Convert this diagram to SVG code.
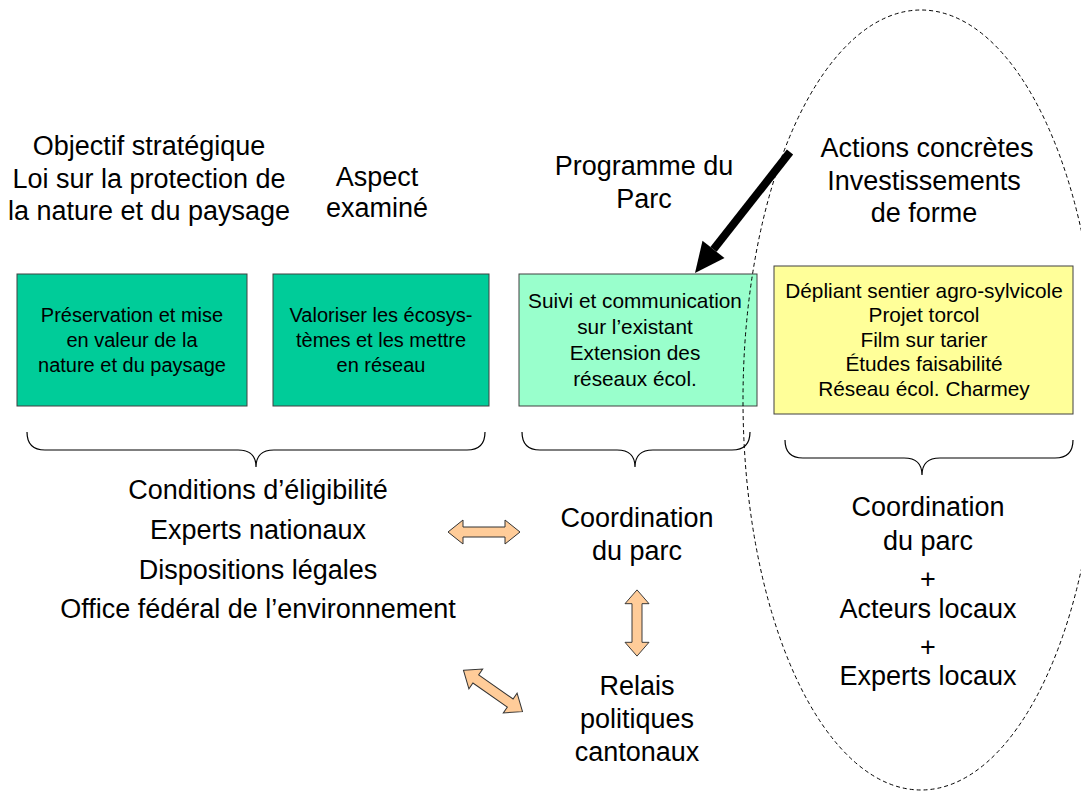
<svg xmlns="http://www.w3.org/2000/svg" width="1081" height="791" viewBox="0 0 1081 791">
  <style>
    text { font-family: "Liberation Sans", Arial, sans-serif; fill: #000; text-anchor: middle; }
    .title { font-size: 27px; }
    .big { font-size: 27px; }
    .box-text { font-size: 20px; }
    .box-text-l { font-size: 20.8px; }
    .box-teal { fill: #00CC99; stroke: #404040; stroke-width: 1; }
    .box-mint { fill: #99FFCC; stroke: #404040; stroke-width: 1; }
    .box-yellow { fill: #FFFF99; stroke: #404040; stroke-width: 1; }
    .brace { fill: none; stroke: #000; stroke-width: 1.2; }
    .dbl { fill: #FFCC99; stroke: #333; stroke-width: 1; stroke-linejoin: miter; }
    .scope { fill: none; stroke: #000; stroke-width: 1; stroke-dasharray: 4 3; }
  </style>
  <defs>
    <!-- horizontal double block arrow, centred on the origin, 72 long -->
    <polygon id="dbl-arrow" points="-36,0 -21,-12 -21,-5 21,-5 21,-12 36,0 21,12 21,5 -21,5 -21,12"/>
  </defs>

  <rect width="1081" height="791" fill="#fff"/>

  <!-- column headings -->
  <g id="head-objectif">
    <text class="title" x="149" y="155">Objectif stratégique</text>
    <text class="title" x="149" y="188">Loi sur la protection de</text>
    <text class="title" x="149" y="220">la nature et du paysage</text>
  </g>
  <g id="head-aspect">
    <text class="title" x="377" y="186">Aspect</text>
    <text class="title" x="377" y="217">examiné</text>
  </g>
  <g id="head-programme">
    <text class="title" x="644" y="175">Programme du</text>
    <text class="title" x="644" y="208">Parc</text>
  </g>
  <g id="head-actions">
    <text class="title" x="927" y="157">Actions concrètes</text>
    <text class="title" x="924" y="190">Investissements</text>
    <text class="title" x="924" y="222">de forme</text>
  </g>

  <!-- boxes -->
  <g id="box-preservation">
    <rect class="box-teal" x="17" y="274" width="230" height="132"/>
    <text class="box-text" x="132" y="322">Préservation et mise</text>
    <text class="box-text" x="132" y="347">en valeur de la</text>
    <text class="box-text" x="132" y="372">nature et du paysage</text>
  </g>
  <g id="box-valoriser">
    <rect class="box-teal" x="273" y="274" width="216" height="132"/>
    <text class="box-text" x="381" y="322">Valoriser les écosys-</text>
    <text class="box-text" x="381" y="347">tèmes et les mettre</text>
    <text class="box-text" x="381" y="372">en réseau</text>
  </g>
  <g id="box-suivi">
    <rect class="box-mint" x="519" y="274" width="238" height="132"/>
    <text class="box-text-l" x="635" y="308">Suivi et communication</text>
    <text class="box-text-l" x="635" y="334">sur l’existant</text>
    <text class="box-text-l" x="635" y="360">Extension des</text>
    <text class="box-text-l" x="635" y="386">réseaux écol.</text>
  </g>
  <g id="box-actions">
    <rect class="box-yellow" x="774" y="266" width="299" height="148"/>
    <text class="box-text-l" x="924" y="298">Dépliant sentier agro-sylvicole</text>
    <text class="box-text-l" x="924" y="322">Projet torcol</text>
    <text class="box-text-l" x="924" y="347">Film sur tarier</text>
    <text class="box-text-l" x="924" y="371">Études faisabilité</text>
    <text class="box-text-l" x="924" y="396">Réseau écol. Charmey</text>
  </g>

  <!-- lower labels -->
  <g id="label-conditions">
    <text class="big" x="258" y="499">Conditions d’éligibilité</text>
    <text class="big" x="258" y="539">Experts nationaux</text>
    <text class="big" x="258" y="579">Dispositions légales</text>
    <text class="big" x="258" y="618">Office fédéral de l’environnement</text>
  </g>
  <g id="label-coordination">
    <text class="big" x="637" y="527">Coordination</text>
    <text class="big" x="637" y="560">du parc</text>
  </g>
  <g id="label-relais">
    <text class="big" x="637" y="695">Relais</text>
    <text class="big" x="637" y="728">politiques</text>
    <text class="big" x="637" y="761">cantonaux</text>
  </g>
  <g id="label-acteurs">
    <text class="big" x="928" y="516">Coordination</text>
    <text class="big" x="928" y="550">du parc</text>
    <text class="big" x="928" y="588">+</text>
    <text class="big" x="928" y="618">Acteurs locaux</text>
    <text class="big" x="928" y="656">+</text>
    <text class="big" x="928" y="685">Experts locaux</text>
  </g>

  <!-- dashed scope of the concrete actions -->
  <ellipse id="scope" class="scope" cx="921" cy="400" rx="178" ry="390"/>

  <!-- connectors -->
  <g id="connectors">
    <path class="brace" d="M27,432 Q27,450 45,450 L238,450 Q256,450 256,467 Q256,450 274,450 L467,450 Q485,450 485,432"/>
    <path class="brace" d="M522,432 Q522,450 540,450 L617,450 Q635,450 635,467 Q635,450 653,450 L732,450 Q750,450 750,432"/>
    <path class="brace" d="M785,440 Q785,458 803,458 L904,458 Q922,458 922,475 Q922,458 940,458 L1055,458 Q1073,458 1073,440"/>

    <use href="#dbl-arrow" class="dbl" transform="translate(484,532)"/>
    <use href="#dbl-arrow" class="dbl" transform="translate(637,623) rotate(90) scale(0.92,1)"/>
    <use href="#dbl-arrow" class="dbl" transform="translate(493,691) rotate(35)"/>

    <line x1="790" y1="152" x2="713.5" y2="249.4" stroke="#000" stroke-width="8"/>
    <polygon points="695,273 724.5,258 702.5,240.8" fill="#000"/>
  </g>
</svg>
